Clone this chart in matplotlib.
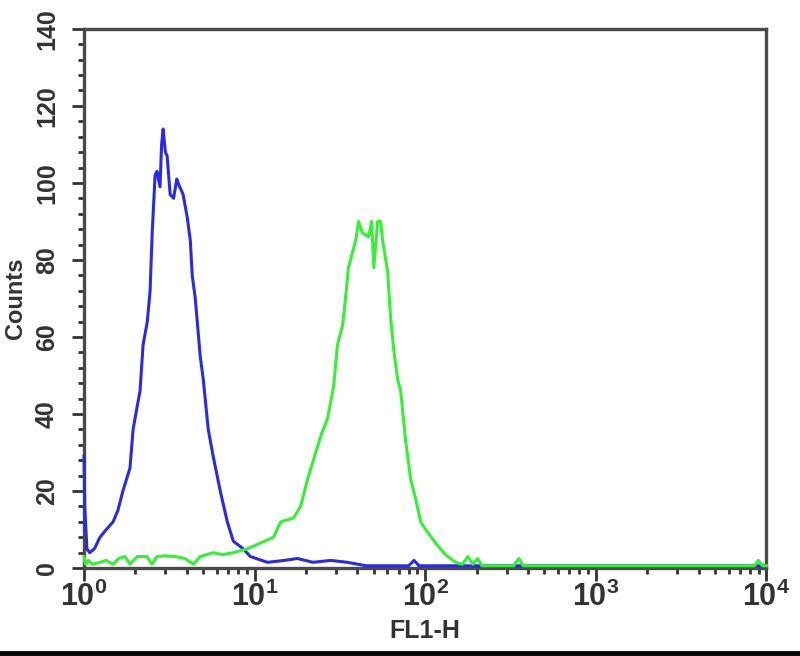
import matplotlib
matplotlib.use('Agg')
import matplotlib.pyplot as plt
from matplotlib.lines import Line2D
from matplotlib.ticker import MultipleLocator, LogLocator
import numpy as np

plt.rcParams['font.family'] = ['Liberation Sans', 'DejaVu Sans']
plt.rcParams['font.weight'] = 'bold'
plt.rcParams['mathtext.fontset'] = 'custom'
plt.rcParams['mathtext.rm'] = 'Liberation Sans:bold'
plt.rcParams['mathtext.it'] = 'Liberation Sans:bold'
plt.rcParams['mathtext.bf'] = 'Liberation Sans:bold'

# control (blue) histogram: FL1-H value, counts
blue_fl1 = [1.00, 1.01, 1.04, 1.08, 1.15, 1.24, 1.35, 1.48, 1.58, 1.69, 1.86, 1.94,
            2.05, 2.13, 2.22, 2.35, 2.44, 2.51, 2.61, 2.68, 2.79, 2.85, 2.91, 3.00,
            3.07, 3.20, 3.35, 3.50, 3.56, 3.81, 4.03, 4.20, 4.31, 4.49, 4.80, 5.00,
            5.35, 5.72, 6.29, 6.92, 7.50, 8.59, 9.44, 11.9, 15.0, 17.8, 22.0, 28.0,
            35.0, 45.0, 60.0, 80.0, 86.0, 92.0, 155.0, 10000.0]
blue_counts = [29, 16, 5, 4, 5, 8, 10, 12, 15, 20, 26, 36,
               42, 46, 58, 64, 72, 87, 102, 103, 99, 110, 114, 108,
               107, 97, 96, 101, 100, 97, 91, 85, 76, 70, 55, 49,
               36, 29, 20, 12, 7, 5, 3, 1.5, 2, 2.5, 1.5, 2,
               1.5, 0.6, 0.6, 0.6, 2, 0.6, 0.6, 0.6]

# stained sample (green) histogram
green_fl1 = [1.00, 1.02, 1.06, 1.12, 1.24, 1.35, 1.48, 1.60, 1.74, 1.86, 2.05, 2.20,
             2.34, 2.50, 2.68, 3.00, 3.42, 3.90, 4.37, 4.80, 5.72, 6.50, 7.50, 9.07,
             10.8, 12.9, 14.2, 16.9, 18.6, 20.4, 22.1, 24.3, 26.8, 29.0, 30.6, 32.8,
             34.1, 35.5, 39.1, 40.7, 42.9, 46.6, 48.5, 50.0, 52.6, 54.8, 56.3, 60.2,
             62.7, 65.3, 68.9, 71.8, 76.8, 82.2, 87.9, 94.1, 100.7, 115, 132, 151,
             165, 178, 190, 203, 215, 330, 354, 375, 8500, 8970, 9500, 10000]
green_counts = [3, 1, 2, 1, 1.5, 2, 1, 2.5, 3, 1, 3, 3,
                3, 1, 3, 3.2, 3, 2.5, 1, 3, 4, 3.5, 4, 5,
                6.5, 8, 12, 13, 16, 23, 28, 34, 39, 47, 58, 63,
                70, 78, 85, 90, 87, 86, 90, 78, 90, 90, 85, 77,
                65, 57, 49, 46, 33, 23, 18, 12, 10, 6.5, 3.4, 1.5,
                1, 3, 1, 2.5, 0.6, 0.6, 2.5, 0.6, 0.6, 2, 0.6, 0.6]

fig = plt.figure(figsize=(8, 6.56), dpi=100)
ax = fig.add_axes([0.105, 0.134, 0.853, 0.822])

ax.plot(blue_fl1, blue_counts, color='#2a2ae6', lw=2.2, clip_on=False, zorder=3)
ax.plot(green_fl1, green_counts, color='#35f035', lw=2.2, clip_on=False, zorder=4)

ax.set_xscale('log')
ax.set_xlim(1, 10000)
ax.set_ylim(0, 140)

ax.xaxis.set_minor_locator(LogLocator(base=10, subs=np.arange(2, 10), numticks=20))
ax.set_xticks([1, 10, 100, 1000, 10000])
ax.set_xticklabels([r'$10^{0}$', r'$10^{1}$', r'$10^{2}$', r'$10^{3}$', r'$10^{4}$'])

ax.yaxis.set_major_locator(MultipleLocator(20))
ax.yaxis.set_minor_locator(MultipleLocator(4))

for s in ax.spines.values():
    s.set_color('#4a4a4a')
    s.set_linewidth(2.4)

ax.tick_params(axis='both', which='major', length=9, width=2, color='#333333')
ax.tick_params(axis='both', which='minor', length=4, width=2, color='#333333')
ax.tick_params(axis='x', which='major', labelsize=22, labelcolor='#333333', pad=1)
ax.tick_params(axis='y', which='major', labelsize=18, labelcolor='#333333', pad=9)
for lbl in ax.get_yticklabels():
    lbl.set_rotation(90)
    lbl.set_va('center')

ax.set_xlabel('FL1-H', fontsize=18, fontweight='bold', color='#333333', labelpad=4)
ax.set_ylabel('Counts', fontsize=17, fontweight='bold', color='#333333', labelpad=6)

# black border line along the bottom of the image
fig.add_artist(Line2D([0, 1], [0.004, 0.004], transform=fig.transFigure,
                      color='black', lw=3.5))

fig.savefig('out.png', dpi=100)
